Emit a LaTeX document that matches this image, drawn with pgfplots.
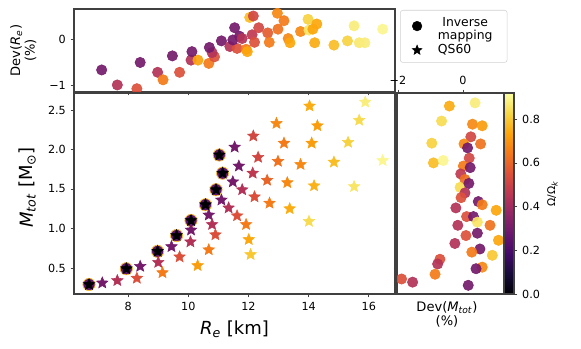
\documentclass[border=0pt]{standalone}
\usepackage{fontspec}
\setmainfont{DejaVu Sans}
\usepackage{pgfplots}
\usepackage{pgfplotstable}
\pgfplotsset{compat=1.18}

\newcommand{\tickfont}{\fontsize{8.4}{9}\selectfont}
\newcommand{\biglabel}{\fontsize{13.5}{15}\selectfont}
\newcommand{\midlabel}{\fontsize{9.8}{11}\selectfont}
\newcommand{\legfont}{\fontsize{9.3}{10.5}\selectfont}
\newcommand{\cbfont}{\fontsize{8}{9}\selectfont}

% filled five-pointed star like matplotlib's '*'
\pgfdeclareplotmark{fstar}{%
  \pgfpathmoveto{\pgfpointpolar{90}{\pgfplotmarksize}}%
  \pgfpathlineto{\pgfpointpolar{126}{0.45\pgfplotmarksize}}%
  \pgfpathlineto{\pgfpointpolar{162}{\pgfplotmarksize}}%
  \pgfpathlineto{\pgfpointpolar{198}{0.45\pgfplotmarksize}}%
  \pgfpathlineto{\pgfpointpolar{234}{\pgfplotmarksize}}%
  \pgfpathlineto{\pgfpointpolar{270}{0.45\pgfplotmarksize}}%
  \pgfpathlineto{\pgfpointpolar{306}{\pgfplotmarksize}}%
  \pgfpathlineto{\pgfpointpolar{342}{0.45\pgfplotmarksize}}%
  \pgfpathlineto{\pgfpointpolar{18}{\pgfplotmarksize}}%
  \pgfpathlineto{\pgfpointpolar{54}{0.45\pgfplotmarksize}}%
  \pgfpathclose
  \pgfusepathqfillstroke
}

\pgfplotsset{
  colormap={inferno}{rgb255=(0,0,4) rgb255=(22,11,57) rgb255=(66,10,104)
    rgb255=(106,23,110) rgb255=(147,38,103) rgb255=(188,55,84) rgb255=(221,81,58)
    rgb255=(243,120,25) rgb255=(252,165,10) rgb255=(246,215,70) rgb255=(252,255,164)},
  panel/.style={
    scale only axis, anchor=south west,
    colormap name=inferno, point meta min=0, point meta max=0.92,
    tick align=outside, major tick length=2.6pt,
    axis line style={draw=black!75, line width=0.8pt},
    tick style={draw=black!75, line width=0.6pt},
    tick label style={font=\tickfont},
    /pgf/number format/assume math mode=true,
    clip marker paths=true,
  },
  dots/.style={scatter, only marks, mark=*, mark size=3.9pt, point meta=explicit,
    opacity=0.92, scatter/use mapped color={draw=mapped color, fill=mapped color}},
  stars/.style={scatter, only marks, mark=fstar, mark size=4.5pt, point meta=explicit,
    scatter/use mapped color={draw=mapped color, fill=mapped color}},
}

% R_e [km], M_tot [Msun], Omega/Omega_k  (QS60)
\pgfplotstableread{
x y c
7.14 0.31 0.30
8.40 0.52 0.30
9.44 0.77 0.30
10.09 0.98 0.30
10.68 1.17 0.30
11.10 1.36 0.30
11.48 1.59 0.30
11.68 1.79 0.30
11.54 2.03 0.30
7.64 0.34 0.44
9.00 0.57 0.44
10.07 0.83 0.44
10.79 1.05 0.44
11.34 1.26 0.44
11.79 1.49 0.44
12.14 1.70 0.47
12.32 1.90 0.52
12.16 2.17 0.52
8.29 0.37 0.55
9.71 0.64 0.55
10.90 0.92 0.55
11.62 1.16 0.55
12.20 1.40 0.55
12.62 1.61 0.60
12.98 1.85 0.63
13.18 2.08 0.65
12.93 2.33 0.68
9.14 0.44 0.65
10.68 0.73 0.65
11.92 1.05 0.65
12.70 1.32 0.65
13.29 1.58 0.68
13.73 1.81 0.68
14.10 2.08 0.72
14.29 2.30 0.72
14.03 2.55 0.75
10.31 0.53 0.72
12.01 0.86 0.74
13.37 1.25 0.75
14.18 1.54 0.76
14.84 1.84 0.78
15.31 2.09 0.82
15.68 2.37 0.84
15.88 2.60 0.88
12.07 0.67 0.80
14.01 1.09 0.84
15.51 1.53 0.86
16.46 1.86 0.90
6.70 0.29 0
7.94 0.49 0
8.98 0.71 0
9.61 0.91 0
10.09 1.10 0
10.57 1.30 0
10.92 1.49 0
11.14 1.70 0
11.03 1.93 0
}\qsdata

% non-rotating inverse mapping points
\pgfplotstableread{
x y
6.70 0.29
7.94 0.49
8.98 0.71
9.61 0.91
10.09 1.10
10.57 1.30
10.92 1.49
11.14 1.70
11.03 1.93
}\nonrot

% R_e, Dev(R_e) [%], Omega/Omega_k
\pgfplotstableread{
x y c
7.12 -0.66 0.30
7.64 -0.98 0.44
8.29 -1.06 0.55
8.40 -0.50 0.30
8.98 -0.71 0.44
9.16 -0.87 0.65
9.47 -0.36 0.30
9.71 -0.71 0.55
10.09 -0.45 0.44
10.32 -0.45 0.73
10.12 -0.27 0.30
10.68 -0.52 0.65
10.87 -0.38 0.55
10.79 -0.29 0.44
10.70 -0.18 0.30
11.10 -0.04 0.30
11.38 -0.16 0.44
11.62 -0.20 0.55
11.48 -0.02 0.30
11.70 0.06 0.30
11.54 0.24 0.30
11.92 -0.22 0.65
11.96 -0.27 0.74
11.79 0.01 0.44
12.04 0.46 0.78
12.16 0.49 0.52
12.12 0.09 0.47
12.20 -0.07 0.55
12.34 0.24 0.52
12.64 0.13 0.58
12.69 -0.07 0.65
12.96 0.55 0.68
12.98 0.21 0.63
13.18 0.39 0.65
13.32 0.01 0.68
13.38 -0.08 0.74
13.73 0.16 0.68
13.98 0.42 0.82
14.01 0.19 0.86
14.14 0.21 0.74
14.27 0.32 0.74
14.20 -0.08 0.75
14.84 -0.13 0.78
15.29 -0.04 0.82
15.51 0.28 0.88
15.68 -0.08 0.87
15.87 -0.08 0.88
16.46 0.21 0.90
}\devR

% Dev(M_tot) [%], M_tot, Omega/Omega_k
\pgfplotstableread{
x y c
-0.42 2.55 0.75
0.37 2.59 0.88
-0.66 2.36 0.84
0.29 2.32 0.68
0.59 2.30 0.72
-0.96 2.08 0.82
0.24 2.16 0.52
0.03 2.07 0.68
0.54 2.07 0.63
0.14 2.02 0.30
-0.91 1.83 0.78
-0.61 1.86 0.90
0.19 1.89 0.52
0.01 1.79 0.65
0.22 1.77 0.30
-0.07 1.69 0.47
0.06 1.62 0.62
-0.09 1.52 0.84
0.18 1.57 0.30
0.06 1.45 0.44
-0.06 1.39 0.55
0.47 1.34 0.30
0.59 1.30 0.65
-0.22 1.26 0.44
1.02 1.23 0.74
0.11 1.15 0.55
0.32 1.15 0.30
0.44 1.08 0.86
-0.16 1.04 0.44
0.83 1.04 0.63
0.44 0.94 0.30
0.09 0.91 0.55
1.09 0.85 0.74
-0.25 0.81 0.44
0.52 0.74 0.30
0.27 0.70 0.65
0.90 0.66 0.80
-0.71 0.61 0.55
-0.78 0.55 0.44
0.59 0.51 0.68
0.40 0.49 0.30
-0.86 0.42 0.65
-1.89 0.36 0.55
-1.55 0.32 0.44
0.16 0.28 0.30
}\devM

\begin{document}
\begin{tikzpicture}
\useasboundingbox (0,0) rectangle (435.75pt,261.75pt);

% main panel
\begin{axis}[panel,
  at={(55.5pt,41.25pt)}, width=240.75pt, height=150.75pt,
  xmin=6.2, xmax=16.87, ymin=0.17, ymax=2.715,
  xtick={8,10,12,14,16}, ytick={0.5,1.0,1.5,2.0,2.5},
  xtick pos=bottom, ytick pos=left,
  yticklabel style={/pgf/number format/.cd, fixed, precision=1, zerofill},
  xlabel={\textit{R}\textsubscript{\textit{e}} [km]},
  ylabel={\textit{M}\textsubscript{\textit{tot}} [M\textsubscript{⊙}]},
  xlabel style={font=\biglabel, at={(axis description cs:0.5,-0.174)}, anchor=center},
  ylabel style={font=\biglabel, at={(axis description cs:-0.145,0.53)}, anchor=center},
]
\addplot[only marks, mark=*, mark size=4.6pt,
  mark options={fill={rgb,255:red,92;green,20;blue,108}, draw={rgb,255:red,249;green,190;blue,55}, line width=0.6pt}]
  table[x=x, y=y] {\nonrot};
\addplot[stars] table[x=x, y=y, meta=c] {\qsdata};
\end{axis}

% top panel: Dev(R_e)
\begin{axis}[panel,
  at={(55.5pt,192.75pt)}, width=240.75pt, height=62.25pt,
  xmin=6.2, xmax=16.87, ymin=-1.13, ymax=0.64,
  xtick={8,10,12,14,16}, xticklabels={},
  ytick={-1,0}, yticklabels={−1,0},
  xtick pos=bottom, ytick pos=left,
  ylabel={Dev(\textit{R}\textsubscript{\textit{e}})\\(\%)},
  ylabel style={font=\midlabel, align=center, at={(axis description cs:-0.158,0.5)}, anchor=center},
  legend style={at={(1.0156,0.988)}, anchor=north west, draw=black!18, fill=white,
    rounded corners=2pt, font=\legfont, inner xsep=9pt, inner ysep=3pt, row sep=3pt,
    /tikz/every odd column/.append style={column sep=10pt}},
  legend cell align=left,
]
\addlegendimage{only marks, mark=*, mark size=3.6pt, black}
\addlegendentry{\begin{tabular}{@{}c@{}}Inverse\\[-1pt]mapping\end{tabular}}
\addlegendimage{only marks, mark=fstar, mark size=3.8pt, black}
\addlegendentry{QS60}
\addplot[dots, forget plot] table[x=x, y=y, meta=c] {\devR};
\end{axis}

% right panel: Dev(M_tot)
\begin{axis}[panel,
  at={(297.75pt,41.25pt)}, width=80.25pt, height=150.75pt,
  xmin=-2.03, xmax=1.26, ymin=0.17, ymax=2.715,
  xtick={-2,0}, xticklabels={−2,0},
  ytick={0.5,1.0,1.5,2.0,2.5}, yticklabels={},
  xtick pos=top, xticklabel pos=top, ytick pos=left,
  xlabel={Dev(\textit{M}\textsubscript{\textit{tot}})\\(\%)},
  xlabel style={font=\midlabel, align=center, at={(axis description cs:0.467,-0.102)}, anchor=center},
  colorbar,
  colorbar style={
    at={(1,0)}, anchor=south west, xshift=8.25pt,
    scale only axis, width=7.5pt, height=150.75pt,
    ytick={0,0.2,0.4,0.6,0.8}, ytick pos=right, yticklabel pos=right,
    tick align=outside, major tick length=2.6pt,
    axis line style={draw=black!75, line width=0.8pt},
    tick style={draw=black!75, line width=0.6pt},
    yticklabel style={font=\tickfont, /pgf/number format/.cd, fixed, precision=1, zerofill},
    /pgf/number format/assume math mode=true,
    ylabel={Ω/Ω\textsubscript{\textit{k}}},
    ylabel style={font=\cbfont, at={(axis description cs:4.85,0.5)}, anchor=center},
  },
]
\addplot[dots] table[x=x, y=y, meta=c] {\devM};
\end{axis}
\end{tikzpicture}
\end{document}
